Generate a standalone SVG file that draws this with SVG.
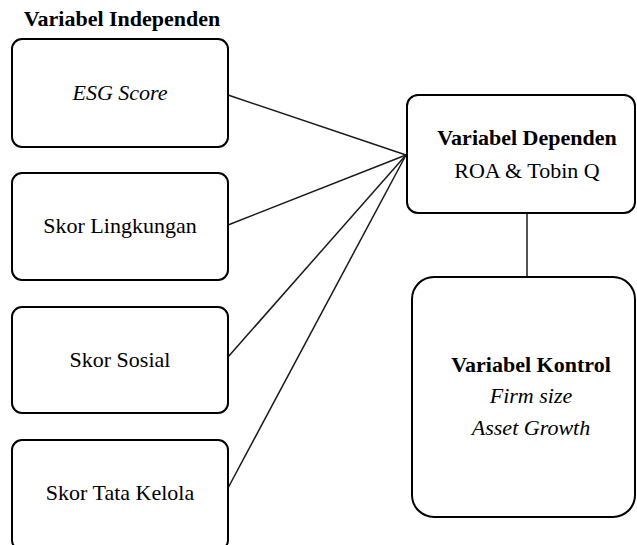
<svg xmlns="http://www.w3.org/2000/svg" width="637" height="545" viewBox="0 0 637 545">
<style>
.box{fill:#fff;stroke:#000;stroke-width:2}
.t{font-family:'Liberation Serif','Times New Roman',serif;font-size:22px;fill:#000;text-anchor:middle}
.b{font-weight:bold}
.i{font-style:italic}
.c{stroke:#1a1a1a;stroke-width:1.5;fill:none}
</style>
<rect width="637" height="545" fill="#fff"/>
<text class="t b" x="122" y="26">Variabel Independen</text>
<g id="connectors">
<line class="c" x1="228" y1="95" x2="406" y2="155"/>
<line class="c" x1="228" y1="225" x2="406" y2="155"/>
<line class="c" x1="228" y1="357" x2="406" y2="155"/>
<line class="c" x1="228" y1="488" x2="406" y2="155"/>
<line class="c" x1="527" y1="213" x2="527" y2="277"/>
</g>
<g id="esg">
<rect class="box" x="12" y="39" width="216" height="108" rx="10"/>
<text class="t i" x="120" y="100">ESG Score</text>
</g>
<g id="lingkungan">
<rect class="box" x="12" y="173" width="216" height="107" rx="10"/>
<text class="t" x="120" y="233">Skor Lingkungan</text>
</g>
<g id="sosial">
<rect class="box" x="12" y="307" width="216" height="106" rx="10"/>
<text class="t" x="120" y="367">Skor Sosial</text>
</g>
<g id="tatakelola">
<rect class="box" x="12" y="440" width="216" height="110" rx="10"/>
<text class="t" x="120" y="500">Skor Tata Kelola</text>
</g>
<g id="dependen">
<rect class="box" x="407" y="95" width="228" height="118" rx="11"/>
<text class="t b" x="527" y="145">Variabel Dependen</text>
<text class="t" x="527" y="178">ROA &amp; Tobin Q</text>
</g>
<g id="kontrol">
<rect class="box" x="412" y="277" width="223" height="240" rx="22"/>
<text class="t b" x="531" y="372">Variabel Kontrol</text>
<text class="t i" x="531" y="403">Firm size</text>
<text class="t i" x="531" y="435">Asset Growth</text>
</g>
</svg>
